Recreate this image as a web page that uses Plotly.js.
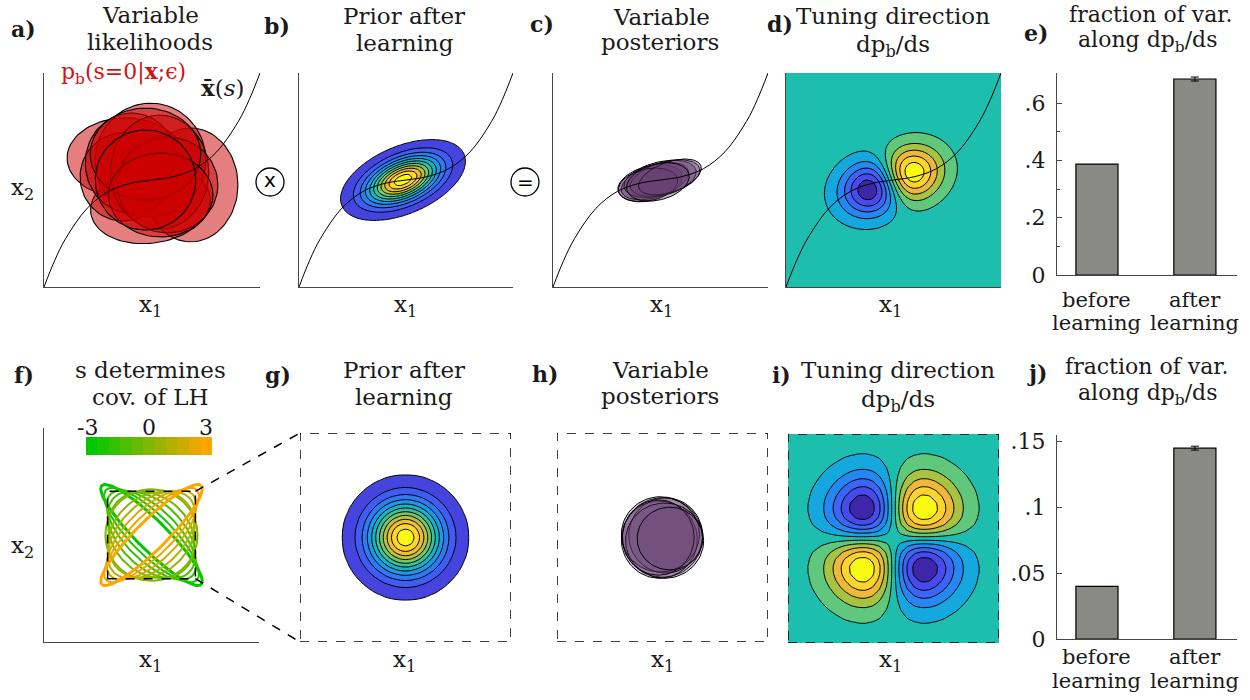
<!DOCTYPE html>
<html><head><meta charset="utf-8">
<script src="https://cdn.plot.ly/plotly-3.0.1.min.js"></script>
<style>body{margin:0;background:#fff}#plot{width:1250px;height:700px}</style>
</head><body><div id="plot"></div>
<script>
// ================= DATA =================
// stimulus manifold xbar(s) (axes normalised 0..1)
const curveX1 = [0, 0.05, 0.1, 0.2, 0.3, 0.4, 0.5, 0.6, 0.7, 0.8, 0.9, 0.95, 1.0];
const curveX2 = [0, 0.125, 0.226, 0.368, 0.447, 0.484, 0.5, 0.516, 0.553, 0.632, 0.774, 0.875, 1.0];

// a) variable likelihood ellipses (centre, radii, angle)
const likeCx  = [0.377, 0.679, 0.493, 0.493, 0.367, 0.405, 0.535, 0.572, 0.470, 0.540, 0.470];
const likeCy  = [0.603, 0.477, 0.383, 0.593, 0.514, 0.579, 0.537, 0.477, 0.621, 0.430, 0.500];
const likeRx  = [0.270, 0.219, 0.279, 0.256, 0.200, 0.214, 0.228, 0.233, 0.256, 0.242, 0.233];
const likeRy  = [0.187, 0.266, 0.178, 0.266, 0.206, 0.234, 0.266, 0.224, 0.215, 0.196, 0.234];
const likeAng = [0, 0, 8, 0, 0, 0, 0, 0, 0, 0, 0];

// c) variable posterior ellipses
const postCx  = [0.451, 0.474, 0.498, 0.521, 0.442, 0.544, 0.488];
const postCy  = [0.486, 0.495, 0.505, 0.509, 0.477, 0.514, 0.491];
const postRx  = [0.153, 0.163, 0.172, 0.167, 0.140, 0.153, 0.149];
const postRy  = [0.079, 0.075, 0.079, 0.075, 0.075, 0.070, 0.084];
const postAng = [15, 18, 14, 16, 12, 20, 15];

// h) variable posteriors (zoomed box, -1..1)
const post2Cx = [0.00, -0.03, 0.03, -0.02, 0.02, -0.04, 0.07];
const post2Cy = [0.00, -0.02, 0.02, 0.03, -0.03, 0.00, -0.01];
const post2Rx = [0.38, 0.36, 0.35, 0.37, 0.37, 0.34, 0.31];
const post2Ry = [0.38, 0.37, 0.36, 0.36, 0.36, 0.36, 0.30];

// f) s determines covariance of likelihood (semi-axes and orientation per s)
const lhS     = [-3, -2.4, -1.8, -1.2, -0.6, 0, 0.6, 1.2, 1.8, 2.4, 3];
const lhMajor = [1.60, 1.46, 1.32, 1.21, 1.09, 1.05, 1.09, 1.21, 1.32, 1.46, 1.60];
const lhMinor = [0.34, 0.46, 0.59, 0.73, 0.87, 1.05, 0.87, 0.73, 0.59, 0.46, 0.34];
const lhAngle = [-45, -45, -45, -45, -45, 0, 45, 45, 45, 45, 45];

// bars
const barCats = ['before learning', 'after learning'];
const barPos = [0, 1];
const barE = [0.387, 0.684];
const errE = 0.007;
const barJ = [0.04, 0.145];
const errJ = 0.0015;

// field model parameters
const priorB = [0.486, 0.5, 0.122, 0.062, 23];   // mx, my, sigma major, sigma minor, angle
const priorG = [0, 0, 0.236];                    // mx, my, sigma
const tuneD  = [0.488, 0.495, 0.115, 0.085, 21]; // mx, my, sigma along, sigma perp, angle
const tuneI  = [0.29];                           // sigma

// ================= HELPERS =================
const W = 1250, H = 700;
const FONT = 'DejaVu Serif';
const TXT = '#1a1a1a';
const parulaStops = [[0,[62,38,168]],[0.1,[72,75,235]],[0.2,[60,100,245]],[0.3,[38,135,242]],
  [0.4,[20,168,222]],[0.5,[30,190,175]],[0.6,[95,200,125]],[0.7,[168,195,65]],
  [0.8,[238,185,58]],[0.9,[253,212,45]],[1,[249,250,20]]];
function parula(t){
  t = Math.max(0, Math.min(1, t));
  for (let k = 0; k < parulaStops.length - 1; k++){
    const [t0,c0] = parulaStops[k], [t1,c1] = parulaStops[k+1];
    if (t <= t1){
      const f = (t - t0)/(t1 - t0);
      return 'rgb(' + c0.map((v,i)=>Math.round(v + f*(c1[i]-v))).join(',') + ')';
    }
  }
  return 'rgb(249,250,20)';
}
function linspace(a,b,n){ const r=[]; for(let i=0;i<n;i++) r.push(a+(b-a)*i/(n-1)); return r; }
function ellipse(cx,cy,rx,ry,angDeg,n){
  n = n || 90; const A = angDeg*Math.PI/180, xs=[], ys=[];
  for(let k=0;k<=n;k++){ const t=2*Math.PI*k/n;
    xs.push(cx + rx*Math.cos(t)*Math.cos(A) - ry*Math.sin(t)*Math.sin(A));
    ys.push(cy + rx*Math.cos(t)*Math.sin(A) + ry*Math.sin(t)*Math.cos(A)); }
  return [xs,ys];
}
function PX(px){ return px/W; }
function PY(py){ return 1 - py/H; }

// ================= TRACES =================
const traces = [];
const curveTrace = (ax) => ({type:'scatter', mode:'lines', x:curveX1, y:curveX2, xaxis:'x'+ax, yaxis:'y'+ax,
  line:{color:'black', width:1, shape:'spline', smoothing:1}, hoverinfo:'skip', showlegend:false});

// a) likelihoods
for (let k=0;k<likeCx.length;k++){
  const [xs,ys] = ellipse(likeCx[k],likeCy[k],likeRx[k],likeRy[k],likeAng[k]);
  traces.push({type:'scatter', mode:'lines', x:xs, y:ys, xaxis:'x', yaxis:'y', fill:'toself',
    fillcolor:'rgba(204,0,0,0.5)', line:{color:'black', width:1.1}, hoverinfo:'skip', showlegend:false});
}
traces.push(curveTrace(''));

// b) prior contour
function bandScale(n){ // n levels -> n+1 colours, background white
  const cs=[[0,'rgb(255,255,255)']];
  for(let j=1;j<=n;j++) cs.push([j/n, parula(0.08 + (j-1)*0.92/(n-1))]);
  return cs;
}
{
  const xs = linspace(0,1,81), ys = linspace(0,1,81);
  const [mx,my,sa,sb,th] = priorB, A = th*Math.PI/180;
  const z = ys.map(y => xs.map(x => { const u=x-mx, v=y-my;
    const a = u*Math.cos(A)+v*Math.sin(A), b = -u*Math.sin(A)+v*Math.cos(A);
    return Math.exp(-0.5*(a*a/(sa*sa) + b*b/(sb*sb))); }));
  traces.push({type:'contour', x:xs, y:ys, z:z, xaxis:'x2', yaxis:'y2', autocontour:false,
    contours:{start:0.04, end:0.94, size:0.09, coloring:'fill', showlines:true},
    line:{color:'black', width:1, smoothing:1}, colorscale:bandScale(11), showscale:false, hoverinfo:'skip'});
}
traces.push(curveTrace(2));

// c) posteriors
for (let k=0;k<postCx.length;k++){
  const [xs,ys] = ellipse(postCx[k],postCy[k],postRx[k],postRy[k],postAng[k]);
  traces.push({type:'scatter', mode:'lines', x:xs, y:ys, xaxis:'x3', yaxis:'y3', fill:'toself',
    fillcolor:'rgba(100,60,110,0.38)', line:{color:'black', width:1}, hoverinfo:'skip', showlegend:false});
}
traces.push(curveTrace(3));

// d) tuning direction
const symScale = linspace(0,1,11).map(t => [t, parula(t)]);
{
  const xs = linspace(0,1,71), ys = linspace(0,1,71);
  const [mx,my,sv,sp,th] = tuneD, A = th*Math.PI/180;
  let z = ys.map(y => xs.map(x => { const u=x-mx, v=y-my;
    const a = u*Math.cos(A)+v*Math.sin(A), b = -u*Math.sin(A)+v*Math.cos(A);
    return a*Math.exp(-0.5*(a*a/(sv*sv) + b*b/(sp*sp))); }));
  const m = Math.max(...z.map(r=>Math.max(...r.map(Math.abs))));
  z = z.map(r => r.map(v => 1.04*v/m));
  traces.push({type:'contour', x:xs, y:ys, z:z, xaxis:'x4', yaxis:'y4', autocontour:false,
    contours:{start:-0.9, end:0.9, size:0.2, coloring:'fill', showlines:true},
    line:{color:'black', width:1, smoothing:1}, colorscale:symScale, showscale:false, hoverinfo:'skip'});
}
traces.push(curveTrace(4));

// e) bars
const barStyle = {color:'rgb(137,138,133)', line:{color:'black', width:1.2}};
traces.push({type:'bar', x:barPos, y:barE, xaxis:'x5', yaxis:'y5', width:0.43,
  marker:barStyle, hoverinfo:'skip', showlegend:false});
traces.push({type:'scatter', mode:'markers', x:[barPos[1]], y:[barE[1]], xaxis:'x5', yaxis:'y5',
  marker:{size:1, opacity:0}, error_y:{type:'constant', value:errE, visible:true, color:'black', thickness:1, width:4},
  hoverinfo:'skip', showlegend:false});

// f) likelihood covariance ellipses
const green = [0,200,0], orange = [255,165,0];
function sColor(s){ const f=(s+3)/6; return 'rgb(' + green.map((v,i)=>Math.round(v+f*(orange[i]-v))).join(',') + ')'; }
for (let k=0;k<lhS.length;k++){
  const [xs,ys] = ellipse(0,0,lhMajor[k],lhMinor[k],lhAngle[k],120);
  traces.push({type:'scatter', mode:'lines', x:xs, y:ys, xaxis:'x6', yaxis:'y6',
    line:{color:sColor(lhS[k]), width:(Math.abs(lhS[k])>2.9?3:2)}, hoverinfo:'skip', showlegend:false});
}
// colour bar of s
traces.push({type:'heatmap', x:lhS, y:[0], z:[lhS], xaxis:'x11', yaxis:'y11', zmin:-3, zmax:3,
  colorscale:[[0,sColor(-3)],[1,sColor(3)]], showscale:false, hoverinfo:'skip'});

// g) prior in zoomed box
{
  const xs = linspace(-1,1,41), ys = linspace(-1,1,41);
  const [mx,my,s] = priorG;
  const z = ys.map(y => xs.map(x => Math.exp(-((x-mx)**2+(y-my)**2)/(2*s*s))));
  traces.push({type:'contour', x:xs, y:ys, z:z, xaxis:'x7', yaxis:'y7', autocontour:false,
    contours:{start:0.04, end:0.94, size:0.09, coloring:'fill', showlines:true},
    line:{color:'black', width:1, smoothing:1}, colorscale:bandScale(11), showscale:false, hoverinfo:'skip'});
}

// h) posteriors zoomed
for (let k=0;k<post2Cx.length;k++){
  const [xs,ys] = ellipse(post2Cx[k],post2Cy[k],post2Rx[k],post2Ry[k],0);
  traces.push({type:'scatter', mode:'lines', x:xs, y:ys, xaxis:'x8', yaxis:'y8', fill:'toself',
    fillcolor:'rgba(100,60,110,0.27)', line:{color:'black', width:1}, hoverinfo:'skip', showlegend:false});
}

// i) tuning quadrupole
{
  const xs = linspace(-1,1,31), ys = linspace(-1,1,31);
  const s = tuneI[0];
  let z = ys.map(y => xs.map(x => x*y*Math.exp(-(x*x+y*y)/(2*s*s))));
  const m = Math.max(...z.map(r=>Math.max(...r.map(Math.abs))));
  z = z.map(r => r.map(v => 1.06*v/m));
  traces.push({type:'contour', x:xs, y:ys, z:z, xaxis:'x9', yaxis:'y9', autocontour:false,
    contours:{start:-0.9, end:0.9, size:0.2, coloring:'fill', showlines:true},
    line:{color:'black', width:1, smoothing:0.6}, colorscale:symScale, showscale:false, hoverinfo:'skip'});
}

// j) bars
traces.push({type:'bar', x:barPos, y:barJ, xaxis:'x10', yaxis:'y10', width:0.43,
  marker:barStyle, hoverinfo:'skip', showlegend:false});
traces.push({type:'scatter', mode:'markers', x:[barPos[1]], y:[barJ[1]], xaxis:'x10', yaxis:'y10',
  marker:{size:1, opacity:0}, error_y:{type:'constant', value:errJ, visible:true, color:'black', thickness:1, width:4},
  hoverinfo:'skip', showlegend:false});

// ================= LAYOUT =================
const boxes = {
  '':  [44,260,73,287],  '2':[299,513,73,287], '3':[553,768,73,287], '4':[786,1001,73,287],
  '5': [1057,1237,73,275],
  '6': [44,259,428,642], '7':[300,511,433,642], '8':[557,768,433,642], '9':[788,999,434,643],
  '10':[1057,1237,435,639], '11':[86,212,437,455]
};
const ranges = {
  '':[[0,1],[0,1]], '2':[[0,1],[0,1]], '3':[[0,1],[0,1]], '4':[[0,1],[0,1]],
  '5':[[-0.408,1.43],[0,0.705]], '6':[[-2.45,2.45],[-2.45,2.45]],
  '7':[[-1,1],[-1,1]], '8':[[-1,1],[-1,1]], '9':[[-1,1],[-1,1]],
  '10':[[-0.408,1.43],[0,0.155]], '11':[[-3.3,3.3],[-0.5,0.5]]
};
const layout = {width:W, height:H, margin:{l:0,r:0,t:0,b:0}, paper_bgcolor:'white', plot_bgcolor:'rgba(0,0,0,0)',
  showlegend:false, font:{family:FONT, size:22, color:TXT}, annotations:[], shapes:[]};
const LINE = 'rgb(70,70,70)';
for (const k in boxes){
  const [x0,x1,y0,y1] = boxes[k];
  const withLines = ['', '2', '3', '4', '6', '5', '10'].includes(k);
  const xa = {domain:[PX(x0),PX(x1)], range:ranges[k][0], anchor:'y'+k, showgrid:false, zeroline:false,
    showticklabels:false, ticks:'', showline:withLines, linecolor:LINE, linewidth:1, fixedrange:true};
  const ya = {domain:[PY(y1),PY(y0)], range:ranges[k][1], anchor:'x'+k, showgrid:false, zeroline:false,
    showticklabels:false, ticks:'', showline:withLines, linecolor:LINE, linewidth:1, fixedrange:true};
  if (k==='5' || k==='10'){
    ya.showticklabels = true; ya.ticks='inside'; ya.ticklen=5; ya.tickcolor=LINE; ya.tickwidth=1;
    ya.tickfont = {family:FONT, size:22, color:TXT}; ya.ticklabelstandoff = 6;
    ya.tickmode='array';
    if (k==='5'){ ya.tickvals=[0,0.2,0.4,0.6]; ya.ticktext=['0','.2','.4','.6'];
      ya.minor={tickmode:'array', tickvals:[0.1,0.3,0.5], ticks:'inside', ticklen:3, tickcolor:LINE}; }
    else { ya.tickvals=[0,0.05,0.1,0.15]; ya.ticktext=['0','.05','.1','.15']; }
  }
  layout['xaxis'+k] = xa; layout['yaxis'+k] = ya;
}

function ann(text, px, py, extra){
  layout.annotations.push(Object.assign({text:text, x:PX(px), y:PY(py), xref:'paper', yref:'paper',
    showarrow:false, xanchor:'center', yanchor:'middle', font:{family:FONT, size:22, color:TXT}}, extra||{}));
}
const T23 = {font:{family:FONT, size:23, color:TXT}};
// panel letters
[['a)',23,29],['b)',277,26],['c)',542,24],['d)',780,24],['e)',1036,33],
 ['f)',24,375],['g)',278,375],['h)',545,374],['i)',781,375],['j)',1037,373]]
 .forEach(([t,x,y]) => ann('<b>'+t+'</b>', x, y));
// titles
[['Variable',150,15],['likelihoods',150,42],['Prior after',404,16],['learning',405,43],
 ['Variable',661,17],['posteriors',660,42],['Tuning direction',893,16],['dp<sub>b</sub>/ds',893,46],
 ['s determines',150,370],['cov. of LH',150,397],['Prior after',404,370],['learning',404,397],
 ['Variable',660,370],['posteriors',660,396],['Tuning direction',898,370],['dp<sub>b</sub>/ds',898,401]]
 .forEach(([t,x,y]) => ann(t, x, y, T23));
[['fraction of var.',1150,14],['along dp<sub>b</sub>/ds',1147,41],
 ['fraction of var.',1146,367],['along dp<sub>b</sub>/ds',1147,394]]
 .forEach(([t,x,y]) => ann(t, x, y));
// axis labels
[[150,306],[405,306],[661,306],[890,306],[150,661],[404,661],[662,661],[890,661]]
 .forEach(([x,y]) => ann('x<sub>1</sub>', x, y, T23));
ann('x<sub>2</sub>', 22, 189, T23); ann('x<sub>2</sub>', 22, 547, T23);
// likelihood labels
ann('p<sub>b</sub>(s=0|<b>x</b>;ϵ)', 123, 73, {font:{family:FONT, size:22, color:'rgb(210,20,20)'}});
ann('<b>x̄</b>(<i>s</i>)', 223, 88, T23);
// colour bar labels
[['-3',-3],['0',0],['3',3]].forEach(([t,v]) => layout.annotations.push({text:t, x:v, xref:'x11', y:PY(427), yref:'paper',
  showarrow:false, xanchor:'center', yanchor:'middle', xshift:(v===-3?-4:0), font:{family:FONT, size:22, color:TXT}}));
// bar category labels
[['5',300,323],['10',657,681]].forEach(([ax,y1,y2]) => {
  barCats.forEach((c,i) => {
    const parts = c.split(' ');
    [[parts[0],y1],[parts[1],y2]].forEach(([t,y]) => layout.annotations.push({text:t, x:barPos[i], xref:'x'+ax,
      y:PY(y), yref:'paper', showarrow:false, xanchor:'center', yanchor:'middle', font:{family:FONT, size:21, color:TXT}}));
  });
});
// operator circles
[['x',270,182,-2],['=',525,182,0]].forEach(([t,x,y,dy]) => {
  layout.shapes.push({type:'circle', xref:'paper', yref:'paper', x0:PX(x-14), x1:PX(x+14), y0:PY(y+14), y1:PY(y-14),
    line:{color:'black', width:1.3}});
  ann(t, x, y+dy, {font:{family:'DejaVu Sans', size:20, color:'black'}});
});
// dashed zoom boxes
['6','7','8','9'].forEach(k => layout.shapes.push({type:'rect', xref:'x'+k, yref:'y'+k, x0:-1, x1:1, y0:-1, y1:1,
  layer:'above', line:{color:'black', width:1.5, dash:'dash'}}));
// connector lines from f box to g box
function toPaper(k, xv, yv){
  const [x0,x1,y0,y1] = boxes[k], [rx, ry] = ranges[k];
  const px = x0 + (xv-rx[0])/(rx[1]-rx[0])*(x1-x0), py = y1 - (yv-ry[0])/(ry[1]-ry[0])*(y1-y0);
  return [PX(px), PY(py)];
}
[[1,1,-1,1],[1,-1,-1,-1]].forEach(([fx,fy,gx,gy]) => {
  const [a0,b0] = toPaper('6',fx,fy), [a1,b1] = toPaper('7',gx,gy);
  layout.shapes.push({type:'line', xref:'paper', yref:'paper', x0:a0, y0:b0, x1:a1, y1:b1,
    line:{color:'black', width:1.5, dash:'dash'}});
});

Plotly.newPlot('plot', traces, layout, {displayModeBar:false, staticPlot:true});
</script>
</body></html>
